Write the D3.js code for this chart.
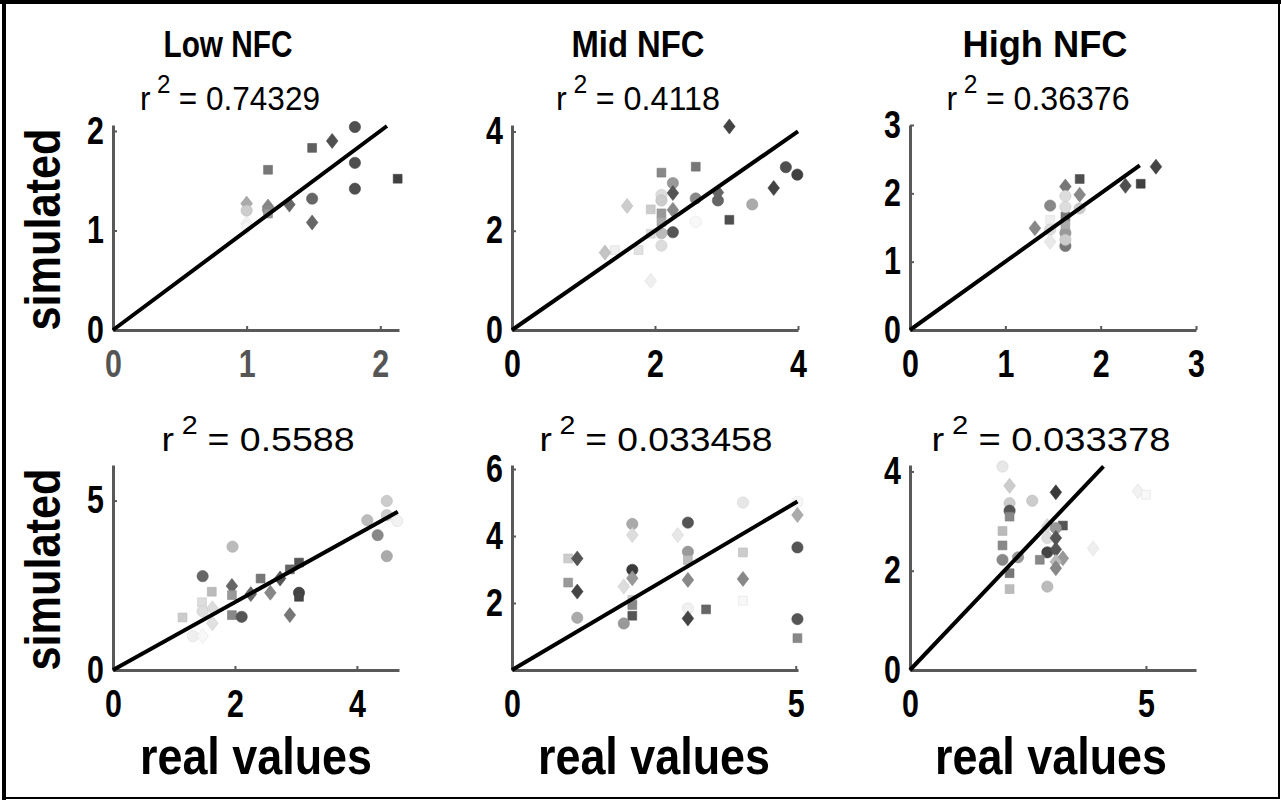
<!DOCTYPE html>
<html>
<head>
<meta charset="utf-8">
<script src="https://cdn.jsdelivr.net/npm/d3@7"></script>
<style>
  body { margin: 0; background: #fff; }
  svg { display: block; }
  text { font-family: "Liberation Sans", Arial, Helvetica, sans-serif; }
</style>
</head>
<body>
<div id="chart"></div>
<script>
// ---- data ----
const groupTitles = ["Low NFC", "Mid NFC", "High NFC"];
const rSquared = ["0.74329", "0.4118", "0.36376", "0.5588", "0.033458", "0.033378"];
const xMax = [2.14, 4.0, 3.0, 4.69, 5.04, 6.06];
const yMax = [2.06, 4.13, 3.0, 6.05, 6.12, 4.13];
const xTicks = [[0, 1, 2], [0, 2, 4], [0, 1, 2, 3], [0, 2, 4], [0, 5], [0, 5]];
const yTicks = [[0, 1, 2], [0, 2, 4], [0, 1, 2, 3], [0, 5], [2, 4, 6], [0, 2, 4]];
const fitEnd = [2.05, 4.0, 2.41, 4.67, 5.03, 4.1];

// each panel: real value, simulated value, marker shape, grey shade (0 dark .. 1 white)
const real1 = [1.81, 1.64, 1.49, 1.16, 1.81, 1.81, 2.13, 1.49, 1.32, 1.49, 1.16, 1.16, 1.16, 1.0, 1.0, 1.0, 1.0];
const sim1 = [2.04, 1.90, 1.83, 1.61, 1.68, 1.42, 1.52, 1.32, 1.26, 1.08, 1.24, 1.21, 1.17, 1.27, 1.20, 1.07, 1.03];
const shape1 = "odssoosodddosdod".split("").concat(["d"]);
const shade1 = [.11, .11, .2, .32, .11, .11, .03, .23, .23, .23, .41, .41, .5, .59, .77, .97, .99];

const real2 = [3.04, 3.83, 3.99, 3.66, 3.04, 3.36, 2.88, 2.88, 2.57, 2.57, 2.57, 2.09, 2.25, 2.25, 2.09, 2.09, 2.25, 2.09, 1.94, 1.61, 2.09, 2.25, 2.09, 1.94, 2.09, 1.77, 1.44, 1.30, 1.94];
const sim2 = [4.10, 3.28, 3.13, 2.86, 2.22, 2.53, 2.61, 2.77, 2.65, 3.29, 2.18, 3.17, 2.96, 2.76, 2.72, 2.61, 2.42, 2.35, 2.43, 2.50, 2.18, 1.97, 1.95, 1.94, 1.70, 1.61, 1.61, 1.56, 0.99];
const shape2 = "doodsoodososodoodssdsoosossdds".slice(0, 29).split("");
const shade2 = [.05, .11, .03, .05, .11, .59, .23, .23, .41, .32, 1, .41, .5, .14, .86, .77, .41, .5, .77, .77, .59, .14, .68, .86, .86, .88, .96, .72, .95];

const real3 = [2.58, 2.26, 2.42, 1.78, 1.78, 1.63, 1.63, 1.78, 1.47, 1.63, 1.63, 1.47, 1.31, 1.47, 1.63, 1.47, 1.63, 1.63, 1.63];
const sim3 = [2.39, 2.11, 2.14, 2.21, 1.98, 2.10, 1.96, 1.78, 1.82, 1.66, 1.80, 1.61, 1.49, 1.47, 1.42, 1.29, 1.23, 1.54, 1.32];
const shape3 = "ddssddooososdoodoso".split("");
const shade3 = [.05, .11, .03, .11, .41, .32, .86, .77, .41, .32, .86, .95, .41, .86, .5, .92, .32, .59, .77];

const real4 = [4.49, 4.49, 4.66, 4.17, 4.34, 4.49, 1.96, 1.47, 3.05, 2.90, 2.74, 2.42, 2.58, 2.26, 3.05, 3.05, 2.90, 1.95, 1.95, 1.95, 2.11, 1.62, 1.46, 1.63, 1.47, 1.14, 1.63, 1.31, 1.47];
const sim4 = [4.99, 4.57, 4.40, 4.42, 3.98, 3.36, 3.64, 2.77, 3.17, 2.97, 2.70, 2.70, 2.28, 2.24, 2.28, 2.16, 1.62, 2.48, 2.21, 1.62, 1.57, 2.31, 2.00, 1.82, 1.73, 1.55, 1.38, 1.00, 1.00];
const shape4 = "oooooooossdsddosddssossdosdod".split("");
const shade4 = [.77, .77, .97, .68, .41, .59, .68, .23, .14, .23, .14, .32, .41, .23, .05, .05, .32, .23, .5, .41, .14, .68, .86, .86, .86, .77, .88, .95, 1];

const real5 = [0.99, 1.15, 0.99, 1.15, 1.15, 2.12, 2.12, 2.12, 2.12, 1.97, 2.12, 2.12, 2.12, 1.97, 3.10, 2.92, 3.10, 3.10, 3.10, 3.10, 3.10, 3.42, 4.07, 4.07, 4.07, 4.07, 5.03, 5.03, 5.03, 5.03, 5.03];
const sim5 = [3.33, 3.33, 2.61, 2.34, 1.56, 4.36, 4.03, 2.99, 2.74, 2.49, 2.09, 1.94, 1.62, 1.39, 4.40, 4.03, 3.53, 3.28, 2.69, 1.84, 1.54, 1.81, 5.00, 3.51, 2.72, 2.07, 5.02, 4.63, 3.66, 1.52, 0.95];
const shape5 = "sdsdoododdsssoodosdodsosdsodoos".split("");
const shade5 = [.77, .14, .5, .05, .59, .59, .86, 0, .5, .86, .77, .41, .14, .5, .14, .91, .5, .68, .41, .96, .05, .23, .91, .77, .41, 1, .99, .59, .14, .14, .41];

const real6 = [1.96, 2.11, 2.11, 2.11, 2.11, 2.59, 3.09, 1.96, 1.96, 1.96, 2.29, 2.11, 2.11, 3.24, 2.91, 3.09, 2.91, 3.09, 2.91, 3.09, 2.75, 3.24, 3.09, 3.09, 2.91, 3.88, 4.83, 5.0];
const sim6 = [4.10, 3.71, 3.36, 3.21, 3.09, 3.41, 3.58, 2.80, 2.51, 2.22, 2.27, 1.95, 1.63, 2.91, 2.90, 2.86, 2.66, 2.66, 2.37, 2.43, 2.22, 2.25, 2.18, 2.05, 1.68, 2.45, 3.60, 3.53];
const shape6 = "odoosodssoosssdoododsdddoddso".split("");
const shade6 = [.91, .77, .77, .14, .41, .77, 0, .68, .41, .41, .5, .32, .68, .14, .86, .5, .86, .14, .05, .14, .41, .5, .68, .41, .68, .95, .97, 1];

const panels = [
  [real1, sim1, shape1, shade1],
  [real2, sim2, shape2, shade2],
  [real3, sim3, shape3, shade3],
  [real4, sim4, shape4, shade4],
  [real5, sim5, shape5, shade5],
  [real6, sim6, shape6, shade6]
];

// ---- layout ----
const W = 1281, H = 800;
const colLeft = [113, 512, 910];
const rowTop = [125, 465];
const plotW = 286, plotH = 205;
const titleX = [228, 638, 1045];
const titleW = [129, 133, 165];
const rX = [230, 638, 1038, 258, 656, 1051];
const rW = [180, 164, 183, 193, 233, 239];
const xlabX = [256, 654, 1051];

const shadeColor = d3.scaleLinear().domain([0, 1]).range(["#3a3a3a", "#f8f8f8"]);

// the source font is a condensed Helvetica: squeeze Liberation Sans to match
function squeeze(sel, k) {
  sel.each(function() {
    const w = this.getComputedTextLength();
    d3.select(this).attr("textLength", w * k).attr("lengthAdjust", "spacingAndGlyphs");
  });
}

const diamond = {
  draw(ctx) {
    ctx.moveTo(0, -7.5);
    ctx.lineTo(5.8, 0);
    ctx.lineTo(0, 7.5);
    ctx.lineTo(-5.8, 0);
    ctx.closePath();
  }
};
const symbolFor = {
  o: d3.symbol().type(d3.symbolCircle).size(100)(),
  s: d3.symbol().type(d3.symbolSquare).size(78)(),
  d: d3.symbol().type(diamond)()
};

const svg = d3.select("#chart").append("svg")
    .attr("width", W)
    .attr("height", H);

svg.append("rect").attr("width", W).attr("height", H).attr("fill", "#fff");

panels.forEach((p, i) => {
  const col = i % 3, row = Math.floor(i / 3);
  const x0 = colLeft[col], y0 = rowTop[row];
  const x = d3.scaleLinear().domain([0, xMax[i]]).range([x0, x0 + plotW]);
  const y = d3.scaleLinear().domain([0, yMax[i]]).range([y0 + plotH, y0]);
  const g = svg.append("g");

  // points
  const pts = p[0].map((v, k) => ({ x: v, y: p[1][k], shape: p[2][k], shade: p[3][k] }));
  g.selectAll("path.pt")
    .data(pts)
    .enter().append("path")
    .attr("class", "pt")
    .attr("d", d => symbolFor[d.shape])
    .attr("transform", d => `translate(${x(d.x)},${y(d.y)})`)
    .attr("fill", d => shadeColor(d.shade))
    .attr("stroke", d => d3.color(shadeColor(d.shade)).darker(0.25))
    .attr("stroke-width", 0.6);

  // axes
  const ax = g.append("g")
    .attr("transform", `translate(0,${y0 + plotH})`)
    .call(d3.axisBottom(x).tickValues(xTicks[i]).tickFormat(d3.format("d"))
      .tickSizeInner(-4).tickSizeOuter(0).tickPadding(20));
  const ay = g.append("g")
    .attr("transform", `translate(${x0},0)`)
    .call(d3.axisLeft(y).tickValues(yTicks[i]).tickFormat(d3.format("d"))
      .tickSizeInner(-4).tickSizeOuter(0).tickPadding(9));

  [ax, ay].forEach(a => {
    a.select(".domain").attr("stroke", "#595959").attr("stroke-width", 3);
    a.selectAll(".tick line").attr("stroke", "#595959").attr("stroke-width", 2);
    a.selectAll(".tick text")
      .attr("fill", "#000")
      .style("font-size", "38px")
      .style("font-weight", "bold")
      .call(squeeze, 0.8);
  });
  if (i === 0) ax.selectAll(".tick text").attr("fill", "#555");

  // identity line
  g.append("line")
    .attr("x1", x(0)).attr("y1", y(0))
    .attr("x2", x(fitEnd[i])).attr("y2", y(fitEnd[i]))
    .attr("stroke", "#000")
    .attr("stroke-width", 4)
    .attr("stroke-linecap", "butt");

  // r^2 label
  const rt = g.append("text")
    .attr("x", rX[i])
    .attr("y", row === 0 ? 110 : 451)
    .attr("text-anchor", "middle")
    .attr("textLength", rW[i])
    .attr("lengthAdjust", "spacingAndGlyphs")
    .style("font-size", "34px");
  rt.append("tspan").text("r");
  rt.append("tspan").attr("dx", 7).attr("dy", -17).style("font-size", "26px").text("2");
  rt.append("tspan").attr("dx", 9).attr("dy", 17).text("= " + rSquared[i]);

  if (row === 0) {
    g.append("text")
      .attr("x", titleX[col])
      .attr("y", 57)
      .attr("text-anchor", "middle")
      .attr("textLength", titleW[col])
      .attr("lengthAdjust", "spacingAndGlyphs")
      .style("font-size", "37px")
      .style("font-weight", "bold")
      .text(groupTitles[col]);
  } else {
    g.append("text")
      .attr("x", xlabX[col])
      .attr("y", 774)
      .attr("text-anchor", "middle")
      .attr("textLength", 232)
      .attr("lengthAdjust", "spacingAndGlyphs")
      .style("font-size", "52px")
      .style("font-weight", "bold")
      .text("real values");
  }
  if (col === 0) {
    g.append("text")
      .attr("transform", `translate(60,${y0 + plotH / 2 + 2}) rotate(-90)`)
      .attr("text-anchor", "middle")
      .attr("textLength", 202)
      .attr("lengthAdjust", "spacingAndGlyphs")
      .style("font-size", "50px")
      .style("font-weight", "bold")
      .text("simulated");
  }
});

// figure frame
svg.append("rect")
  .attr("x", 3).attr("y", 2).attr("width", W - 5).attr("height", H - 4)
  .attr("fill", "none").attr("stroke", "#000").attr("stroke-width", 2);
svg.append("line").attr("x1", 0).attr("x2", W).attr("y1", 2).attr("y2", 2)
  .attr("stroke", "#000").attr("stroke-width", 4);
svg.append("line").attr("x1", 4).attr("x2", 4).attr("y1", 0).attr("y2", H)
  .attr("stroke", "#000").attr("stroke-width", 4);
</script>
</body>
</html>
